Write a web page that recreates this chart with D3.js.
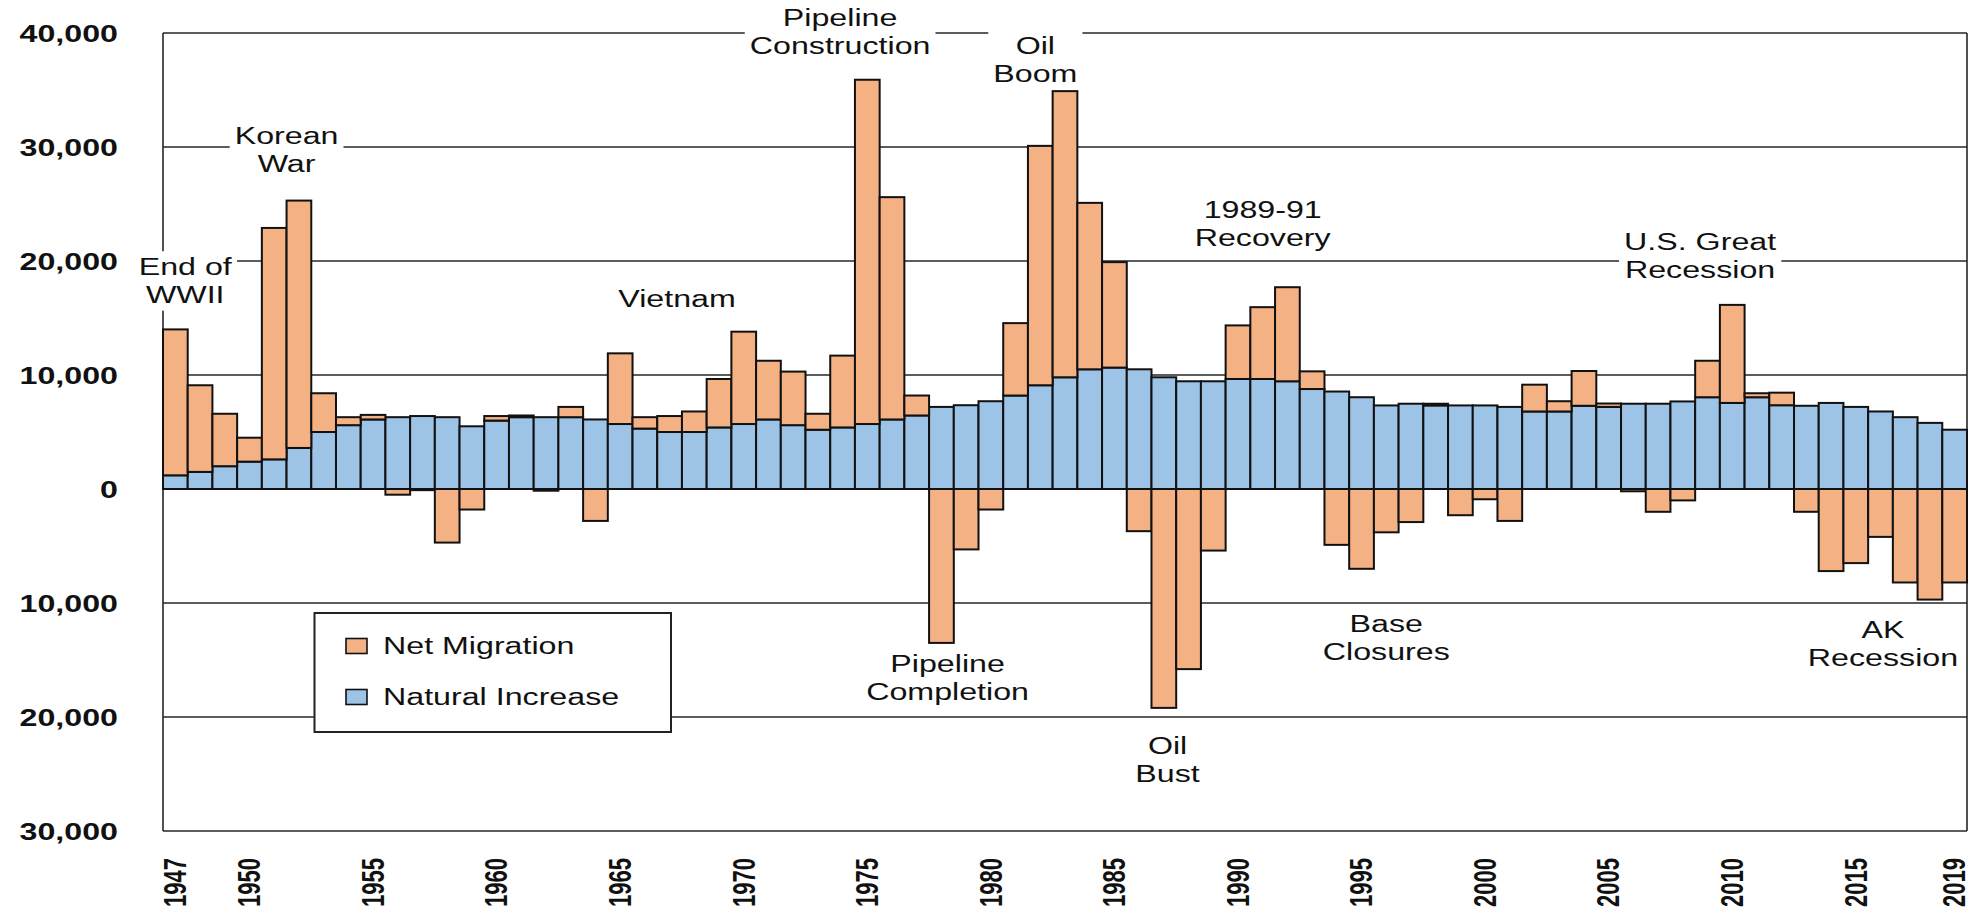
<!DOCTYPE html>
<html><head><meta charset="utf-8">
<script src="https://cdn.jsdelivr.net/npm/d3@7"></script>
<style>
html,body{margin:0;padding:0;background:#fff;}
svg{display:block;}
text{font-family:"Liberation Sans", Arial, sans-serif; fill:#111;}
</style></head><body>
<svg id="chart" width="1980" height="916"></svg>
<script>
const years = [1947,1948,1949,1950,1951,1952,1953,1954,1955,1956,
  1957,1958,1959,1960,1961,1962,1963,1964,1965,1966,
  1967,1968,1969,1970,1971,1972,1973,1974,1975,1976,
  1977,1978,1979,1980,1981,1982,1983,1984,1985,1986,
  1987,1988,1989,1990,1991,1992,1993,1994,1995,1996,
  1997,1998,1999,2000,2001,2002,2003,2004,2005,2006,
  2007,2008,2009,2010,2011,2012,2013,2014,2015,2016,
  2017,2018,2019];
const naturalIncrease = [1200,1500,2000,2400,2600,3600,5000,5600,6100,6300,
  6400,6300,5500,6000,6300,6300,6300,6100,5700,5300,
  5000,5000,5400,5700,6100,5600,5200,5400,5700,6100,
  6450,7200,7350,7700,8200,9100,9800,10500,10650,10500,
  9800,9450,9450,9650,9650,9450,8770,8550,8050,7330,
  7480,7330,7330,7330,7200,6800,6800,7300,7200,7480,
  7480,7680,8050,7550,8050,7350,7300,7550,7200,6800,
  6300,5800,5200];
const netMigration = [12800,7600,4600,2100,20300,21700,3400,700,400,-500,
  -100,-4700,-1800,400,150,-150,900,-2800,6200,1000,
  1400,1800,4250,8100,5150,4700,1400,6300,30200,19500,
  1750,-13500,-5300,-1800,6350,21000,25100,14600,9250,-3700,
  -19200,-15800,-5400,4700,6300,8250,1550,-4900,-7000,-3800,
  -2900,150,-2300,-900,-2800,2350,900,3050,300,-200,
  -2000,-1000,3200,8600,350,1100,-2000,-7200,-6500,-4200,
  -8200,-9700,-8200];
const yTicks = [-30000,-20000,-10000,0,10000,20000,30000,40000];
const xTickYears = [1947,1950,1955,1960,1965,1970,1975,1980,1985,1990,1995,2000,2005,2010,2015,2019];
const seriesNames = ["Net Migration","Natural Increase"];
const annotations = [
  {lines:["End of","WWII"], year:1947.4, value:19500},
  {lines:["Korean","War"], year:1951.5, value:31000},
  {lines:["Vietnam"], year:1967.3, value:16700},
  {lines:["Pipeline","Construction"], year:1973.9, value:41300},
  {lines:["Oil","Boom"], year:1981.8, value:38900},
  {lines:["1989-91","Recovery"], year:1991.0, value:24500},
  {lines:["U.S. Great","Recession"], year:2008.7, value:21700},
  {lines:["Pipeline","Completion"], year:1978.25, value:-15350},
  {lines:["Oil","Bust"], year:1987.15, value:-22540},
  {lines:["Base","Closures"], year:1996.0, value:-11840},
  {lines:["AK","Recession"], year:2016.1, value:-12370}
];

const m = {left:163, right:1967, top:33, bottom:831};
const SX = 1.4;
const colMig = "#F4B183", colNat = "#9DC3E6";
const svg = d3.select("#chart");

const x = d3.scaleBand().domain(years).range([m.left, m.right]).padding(0);
const xl = d3.scaleLinear().domain([years[0], years[years.length-1] + 1]).range([m.left, m.right]);
const y = d3.scaleLinear().domain([-30000, 40000]).range([m.bottom, m.top]);

// gridlines
svg.append("g").selectAll("line").data(yTicks).join("line")
  .attr("x1", m.left).attr("x2", m.right)
  .attr("y1", d => y(d)).attr("y2", d => y(d))
  .attr("stroke", "#262626").attr("stroke-width", 1.6);
// frame verticals
svg.append("g").selectAll("line").data([m.left, m.right]).join("line")
  .attr("x1", d => d).attr("x2", d => d)
  .attr("y1", m.top).attr("y2", m.bottom)
  .attr("stroke", "#262626").attr("stroke-width", 1.6);

// bars
const data = years.map((yr, i) => ({year: yr, ni: naturalIncrease[i], nm: netMigration[i]}));
const gb = svg.append("g");
gb.selectAll("rect.nat").data(data).join("rect").attr("class", "nat")
  .attr("x", d => x(d.year)).attr("width", x.bandwidth())
  .attr("y", d => y(d.ni)).attr("height", d => y(0) - y(d.ni))
  .attr("fill", colNat).attr("stroke", "#111").attr("stroke-width", 2);
gb.selectAll("rect.mig").data(data).join("rect").attr("class", "mig")
  .attr("x", d => x(d.year)).attr("width", x.bandwidth())
  .attr("y", d => d.nm >= 0 ? y(d.ni + d.nm) : y(0))
  .attr("height", d => d.nm >= 0 ? y(d.ni) - y(d.ni + d.nm) : y(d.nm) - y(0))
  .attr("fill", colMig).attr("stroke", "#111").attr("stroke-width", 2);

// y axis labels
const yAxis = svg.append("g").attr("transform", "translate(118,0)")
  .call(d3.axisLeft(y).tickValues(yTicks).tickSize(0).tickPadding(0)
    .tickFormat(d => d3.format(",")(Math.abs(d))));
yAxis.select(".domain").remove();
yAxis.selectAll("text")
  .attr("x", 0).attr("dy", "0.35em")
  .attr("transform", `scale(${SX},1)`)
  .style("font-size", "23px").style("font-weight", "bold").attr("fill", "#111");

// x axis labels
const xAxis = svg.append("g").attr("transform", "translate(0,858)")
  .call(d3.axisBottom(x).tickValues(xTickYears).tickSize(0).tickPadding(0));
xAxis.select(".domain").remove();
xAxis.selectAll("text")
  .attr("x", 0).attr("y", 0).attr("dy", "0.35em")
  .attr("text-anchor", "end")
  .attr("transform", `scale(${SX},1) rotate(-90)`)
  .style("font-size", "22px").style("font-weight", "bold").attr("fill", "#111");

// annotations
const ga = svg.append("g");
annotations.forEach(a => {
  const g = ga.append("g");
  const cx = xl(a.year + 0.5), cy = y(a.value);
  const bg = g.append("rect").attr("fill", "#fff");
  a.lines.forEach((ln, i) => {
    g.append("text")
      .attr("transform", `translate(${cx},${cy + i * 28}) scale(${SX},1)`)
      .attr("text-anchor", "middle").attr("dy", "0.35em")
      .style("font-size", "23px")
      .text(ln);
  });
  const bb = g.node().getBBox();
  bg.attr("x", bb.x - 5).attr("y", bb.y - 3).attr("width", bb.width + 10).attr("height", bb.height + 6);
});

// legend
const lg = svg.append("g");
lg.append("rect").attr("x", 314.5).attr("y", 613).attr("width", 356.5).attr("height", 119)
  .attr("fill", "#fff").attr("stroke", "#222").attr("stroke-width", 2);
const legendColors = [colMig, colNat];
const items = lg.selectAll("g.item").data(seriesNames).join("g").attr("class", "item")
  .attr("transform", (d, i) => `translate(346,${646 + i * 51})`);
items.append("rect").attr("x", 0).attr("y", -7.5).attr("width", 21).attr("height", 15)
  .attr("fill", (d, i) => legendColors[i]).attr("stroke", "#111").attr("stroke-width", 1.6);
items.append("text")
  .attr("transform", `translate(37,0) scale(${SX},1)`)
  .attr("dy", "0.35em").style("font-size", "23px")
  .text(d => d);
</script>
</body></html>
